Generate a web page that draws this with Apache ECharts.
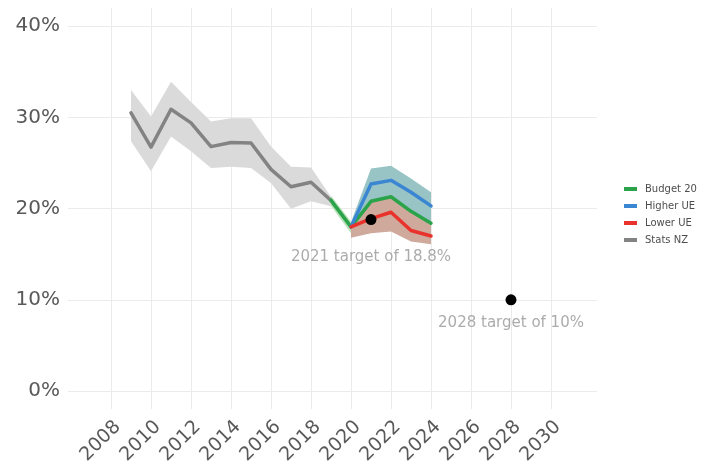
<!DOCTYPE html>
<html>
<head>
<meta charset="utf-8">
<script src="https://cdn.jsdelivr.net/npm/echarts@6/dist/echarts.min.js"></script>
<style>
  html, body { margin: 0; padding: 0; background: #ffffff; }
  #chart { width: 710px; height: 467px; }
</style>
</head>
<body>
<div id="chart"></div>
<script>
// Official Stats NZ series with its uncertainty band (percent)
const statsYears = [2009, 2010, 2011, 2012, 2013, 2014, 2015, 2016, 2017, 2018, 2019];
const statsValue = [30.5, 26.75, 30.9, 29.4, 26.8, 27.25, 27.2, 24.3, 22.4, 22.9, 20.9];
const statsLow   = [27.4, 24.1, 27.9, 26.3, 24.45, 24.6, 24.45, 22.8, 20.0, 20.8, 20.25];
const statsHigh  = [33.0, 30.1, 33.9, 31.7, 29.55, 29.9, 29.9, 26.8, 24.6, 24.5, 21.3];

// Budget 20 projection
const budgetYears = [2019, 2020, 2021, 2022, 2023, 2024];
const budgetValue = [20.9, 18.0, 20.8, 21.3, 19.7, 18.4];
const budgetBandYears = [2019, 2020];
const budgetLow  = [20.3, 17.3];
const budgetHigh = [21.4, 18.6];

// Unemployment scenarios
const forecastYears = [2020, 2021, 2022, 2023, 2024];
const higherValue = [18.0, 22.7, 23.1, 21.8, 20.3];
const higherLow   = [17.6, 20.8, 21.3, 19.7, 18.4];
const higherHigh  = [18.5, 24.4, 24.7, 23.3, 21.8];
const lowerValue  = [18.0, 18.9, 19.6, 17.6, 17.0];
const lowerLow    = [16.8, 17.3, 17.5, 16.4, 16.1];
const lowerHigh   = [18.4, 20.8, 21.3, 19.7, 18.4];

// Targets and their notes
const targetYears  = [2021, 2028];
const targetValues = [18.8, 10];
const noteYears  = [2021, 2028];
const noteValues = [14.7, 7.5];
const noteTexts  = ['2021 target of 18.8%', '2028 target of 10%'];

// Axis ticks
const xTicks = [2008, 2010, 2012, 2014, 2016, 2018, 2020, 2022, 2024, 2026, 2028, 2030];
const yTicks = [0, 10, 20, 30, 40];

const FONT = 'DejaVu Sans';

function pairs(xs, ys) { return xs.map((x, i) => [x, ys[i]]); }

function band(name, xs, lo, hi, fill, z) {
  return {
    name: name,
    type: 'custom',
    silent: true,
    z: z,
    data: xs.map((x, i) => [x, lo[i], hi[i]]),
    encode: { x: 0, y: [1, 2] },
    renderItem: function (params, api) {
      if (params.dataIndex !== 0) return null;
      const top = xs.map((x, i) => api.coord([x, hi[i]]));
      const bot = xs.map((x, i) => api.coord([x, lo[i]])).reverse();
      return {
        type: 'polygon',
        shape: { points: top.concat(bot) },
        style: { fill: fill }
      };
    }
  };
}

function line(name, xs, ys, color, z) {
  return {
    name: name,
    type: 'line',
    data: pairs(xs, ys),
    showSymbol: false,
    symbol: 'none',
    z: z,
    lineStyle: { color: color, width: 3.5, cap: 'round', join: 'round' },
    itemStyle: { color: color }
  };
}

const chart = echarts.init(document.getElementById('chart'), null, { renderer: 'canvas' });

chart.setOption({
  animation: false,
  backgroundColor: '#ffffff',
  grid: { left: 68, right: 113, top: 8, bottom: 57, containLabel: false },
  xAxis: {
    type: 'value',
    min: 2005.85,
    max: 2032.3,
    axisLine: { show: false },
    axisTick: { show: false, customValues: xTicks },
    splitLine: { show: true, lineStyle: { color: '#ebebeb', width: 1 } },
    axisLabel: {
      customValues: xTicks,
      rotate: 45,
      margin: 8,
      verticalAlign: 'top',
      fontFamily: FONT,
      fontSize: 19,
      color: '#595959',
      formatter: v => String(v)
    }
  },
  yAxis: {
    type: 'value',
    min: -2,
    max: 42,
    axisLine: { show: false },
    axisTick: { show: false, customValues: yTicks },
    splitLine: { show: true, lineStyle: { color: '#ebebeb', width: 1 } },
    axisLabel: {
      customValues: yTicks,
      margin: 8,
      fontFamily: FONT,
      fontSize: 20,
      color: '#595959',
      formatter: v => v + '%'
    }
  },
  legend: {
    orient: 'vertical',
    left: 619,
    top: 179,
    icon: 'rect',
    itemWidth: 13,
    itemHeight: 4,
    itemGap: 7,
    data: ['Budget 20', 'Higher UE', 'Lower UE', 'Stats NZ'],
    textStyle: {
      fontFamily: FONT,
      fontSize: 10,
      color: '#4d4d4d',
      padding: [0, 0, 0, 3]
    }
  },
  series: [
    band('statsBand', statsYears, statsLow, statsHigh, '#dadada', 1),
    band('budgetBand', budgetBandYears, budgetLow, budgetHigh, '#b8e2b8', 1),
    band('higherBand', forecastYears, higherLow, higherHigh, '#99c4c6', 1),
    band('lowerBand', forecastYears, lowerLow, lowerHigh, '#cfa99c', 1),
    line('Stats NZ', statsYears, statsValue, '#838383', 3),
    line('Budget 20', budgetYears, budgetValue, '#2aa34a', 4),
    line('Higher UE', forecastYears, higherValue, '#3a86d2', 4),
    line('Lower UE', forecastYears, lowerValue, '#e8322b', 5),
    {
      name: 'targets',
      type: 'scatter',
      z: 6,
      symbol: 'circle',
      symbolSize: 11,
      itemStyle: { color: '#000000', opacity: 1 },
      data: pairs(targetYears, targetValues)
    },
    {
      name: 'notes',
      type: 'scatter',
      z: 6,
      symbolSize: 0.1,
      itemStyle: { color: 'rgba(0,0,0,0)' },
      label: {
        show: true,
        position: 'inside',
        formatter: '{b}',
        fontFamily: FONT,
        fontSize: 15,
        color: '#969696'
      },
      data: noteYears.map((x, i) => ({ name: noteTexts[i], value: [x, noteValues[i]] }))
    }
  ]
});
</script>
</body>
</html>
